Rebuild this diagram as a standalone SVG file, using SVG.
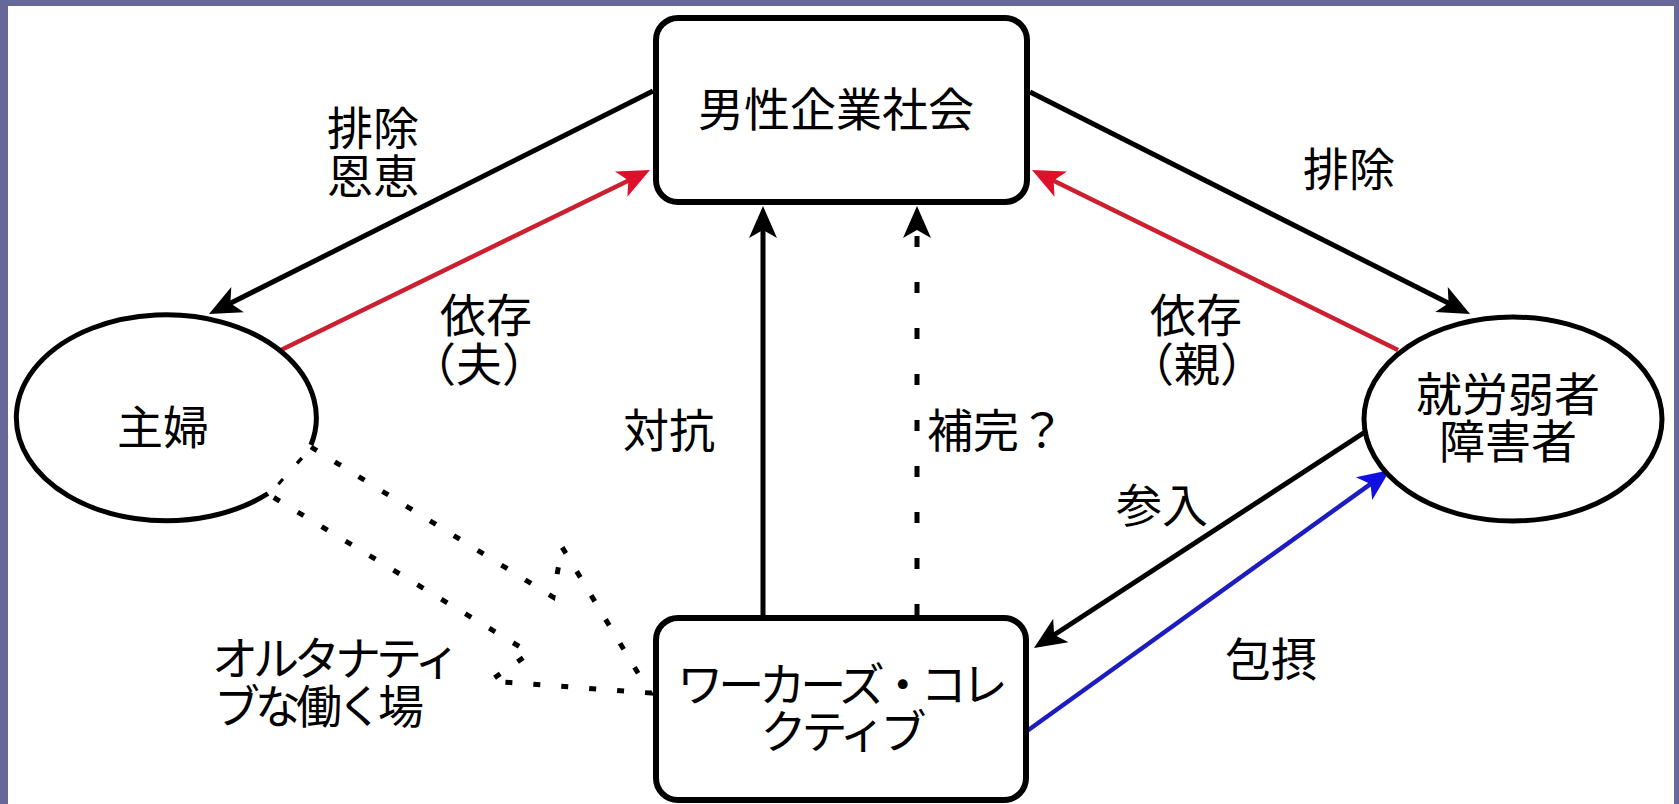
<svg xmlns="http://www.w3.org/2000/svg" width="1679" height="804" viewBox="0 0 1679 804">
<style>
.t{font-family:"Noto Sans CJK JP","Noto Sans CJK SC",sans-serif;font-size:46px;fill:#000;text-anchor:middle}
.k{letter-spacing:-5px}
.st{text-anchor:start}
.box{fill:#fff;stroke:#000;stroke-width:6}
.ell{fill:#fff;stroke:#000;stroke-width:5}
.ln{fill:none;stroke:#000;stroke-width:5}
.red{fill:none;stroke:#cc1f2f;stroke-width:4.5}
.blue{fill:none;stroke:#1c1cc0;stroke-width:4.5}
.dot{fill:none;stroke:#000;stroke-width:5;stroke-dasharray:11 35}
.dot2{fill:none;stroke:#000;stroke-width:5;stroke-dasharray:7 21}
</style>
<defs>
<marker id="ab" markerUnits="userSpaceOnUse" orient="auto" refX="0" refY="0" markerWidth="40" markerHeight="40" overflow="visible"><path d="M10,0 L-22,-14 L-14,0 L-22,14 Z" fill="#000"/></marker>
<marker id="ar" markerUnits="userSpaceOnUse" orient="auto" refX="0" refY="0" markerWidth="40" markerHeight="40" overflow="visible"><path d="M10,0 L-22,-14 L-14,0 L-22,14 Z" fill="#e0102a"/></marker>
<marker id="au" markerUnits="userSpaceOnUse" orient="auto" refX="0" refY="0" markerWidth="40" markerHeight="40" overflow="visible"><path d="M10,0 L-22,-14 L-14,0 L-22,14 Z" fill="#1010e0"/></marker>
</defs>
<rect x="0" y="0" width="1679" height="804" fill="#676799"/>
<rect x="8" y="6" width="1666" height="798" fill="#fff"/>

<g id="connectors">
<line class="ln" x1="653" y1="91" x2="217.9" y2="309.5" marker-end="url(#ab)"/>
<line class="red" x1="281" y1="350" x2="641" y2="174.4" marker-end="url(#ar)"/>
<line class="ln" x1="1030" y1="92" x2="1461.1" y2="309.5" marker-end="url(#ab)"/>
<line class="red" x1="1398" y1="350" x2="1041" y2="174.4" marker-end="url(#ar)"/>
<line class="ln" x1="763" y1="615" x2="763" y2="216" marker-end="url(#ab)"/>
<line class="dot" x1="917" y1="615" x2="917" y2="216" marker-end="url(#ab)"/>
<line class="ln" x1="1365" y1="432" x2="1042.4" y2="642.5" marker-end="url(#ab)"/>
<line class="blue" x1="1027" y1="731" x2="1381.9" y2="475.8" marker-end="url(#au)"/>
<path class="dot2" d="M311,447 L553,597 L562,547 L650,693 L490,681 L530,653 L268,494 Z"/>
</g>

<g id="node-dansei">
<rect class="box" x="656" y="18" width="371" height="184" rx="22"/>
<text class="t" x="836" y="125.5">男性企業社会</text>
</g>

<g id="node-shufu">
<path class="ell" d="M311,445 A150,103 0 1 0 268,493.5"/>
<text class="t" x="163" y="444">主婦</text>
</g>

<g id="node-jakusha">
<ellipse class="ell" cx="1513" cy="419" rx="149" ry="102"/>
<text class="t" x="1508" y="410.5">就労弱者</text>
<text class="t" x="1508" y="457.5">障害者</text>
</g>

<g id="node-workers">
<rect class="box" x="656" y="618" width="370" height="182" rx="22"/>
<text class="t k" x="840" y="701">ワーカーズ・コレ</text>
<text class="t k" x="841" y="748">クティブ</text>
</g>

<g id="labels">
<text class="t" x="373" y="145">排除</text>
<text class="t" x="373" y="192.5">恩恵</text>
<text class="t" x="486" y="331.5">依存</text>
<text class="t" x="479" y="380.5">（夫）</text>
<text class="t" x="669" y="446.5">対抗</text>
<text class="t st" x="927" y="446.5">補完？</text>
<text class="t" x="1349" y="185.5">排除</text>
<text class="t" x="1196" y="331.5">依存</text>
<text class="t" x="1197" y="380.5">（親）</text>
<text class="t" x="1162" y="521.5">参入</text>
<text class="t" x="1271" y="675.5">包摂</text>
<text class="t st k" x="212" y="675">オルタナティ</text>
<text class="t st k" x="214" y="723">ブな働く場</text>
</g>
</svg>
